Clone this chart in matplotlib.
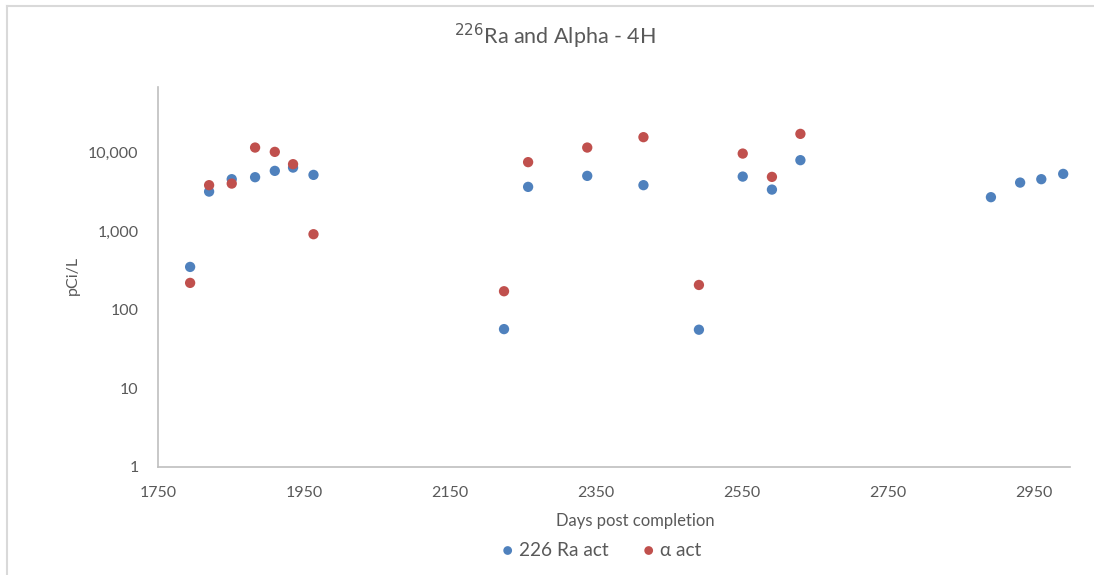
import numpy as np
import matplotlib
matplotlib.use("Agg")
import matplotlib.pyplot as plt
from matplotlib.lines import Line2D
from matplotlib.ticker import FuncFormatter

plt.rcParams['font.family'] = ['Lato', 'DejaVu Sans']

# days post completion
ra_days = [1794, 1820, 1851, 1883, 1910, 1935, 1963, 2224, 2257, 2338, 2415,
           2491, 2551, 2591, 2630, 2891, 2931, 2960, 2990]
ra_act = [353, 3214, 4624, 4900, 5900, 6500, 5245, 57, 3690, 5095, 3880,
          56, 4990, 3408, 8075, 2728, 4185, 4624, 5400]

alpha_days = [1794, 1820, 1851, 1883, 1910, 1935, 1963, 2224, 2257, 2338, 2415,
              2491, 2551, 2591, 2630]
alpha_act = [221, 3880, 4065, 11690, 10300, 7180, 921, 173, 7620, 11690, 15850,
             208, 9800, 4945, 17460]

x_ticks = [1750, 1950, 2150, 2350, 2550, 2750, 2950]
y_ticks = [1, 10, 100, 1000, 10000]

blue = '#4F81BD'
red = '#C0504D'
grey = '#595959'

W, H = 1094, 575
fig = plt.figure(figsize=(W / 100, H / 100), dpi=100)
ax = fig.add_axes([158 / W, 1 - 467 / H, (1070.5 - 158) / W, (467 - 87) / H])

ax.scatter(ra_days, ra_act, s=55, color=blue, edgecolors='none', zorder=3, label='226 Ra act')
ax.scatter(alpha_days, alpha_act, s=55, color=red, edgecolors='none', zorder=3, label='\u03b1 act')

ax.set_yscale('log')
ax.set_ylim(1, 69000)
ax.set_xlim(1750, 3000)
ax.set_xticks(x_ticks)
ax.set_yticks(y_ticks)
ax.yaxis.set_minor_locator(matplotlib.ticker.NullLocator())
ax.yaxis.set_major_formatter(FuncFormatter(lambda v, p: f'{int(v):,}'))

for s in ['top', 'right']:
    ax.spines[s].set_visible(False)
for s in ['left', 'bottom']:
    ax.spines[s].set_color('#BFBFBF')
    ax.spines[s].set_linewidth(1.2)
ax.tick_params(length=0, labelsize=11.5, colors=grey)
ax.tick_params(axis='y', pad=14)
ax.tick_params(axis='x', pad=14)

fig.text(555 / W, 1 - 36 / H, r'$^{226}$Ra and Alpha - 4H', ha='center', va='center',
         fontsize=15.5, color=grey)
fig.text(635 / W, 1 - 521 / H, 'Days post completion', ha='center', va='center',
         fontsize=12, color=grey)
fig.text(73 / W, 1 - 275 / H, 'pCi/L', ha='center', va='center', rotation=90,
         fontsize=11.5, color=grey)

leg = fig.legend(loc='center', bbox_to_anchor=(595 / W, 1 - 550 / H), ncol=2,
                 frameon=False, fontsize=13.7, handletextpad=-0.4, columnspacing=1.1,
                 markerscale=0.85, labelcolor=grey)

# chart border (top and left visible)
fig.add_artist(Line2D([6.5 / W, 6.5 / W], [0, 1 - 6 / H], color='#D9D9D9', lw=1.5,
                      transform=fig.transFigure))
fig.add_artist(Line2D([6.5 / W, 1], [1 - 6 / H, 1 - 6 / H], color='#D9D9D9', lw=1.5,
                      transform=fig.transFigure))

fig.savefig('out.png', dpi=100)
